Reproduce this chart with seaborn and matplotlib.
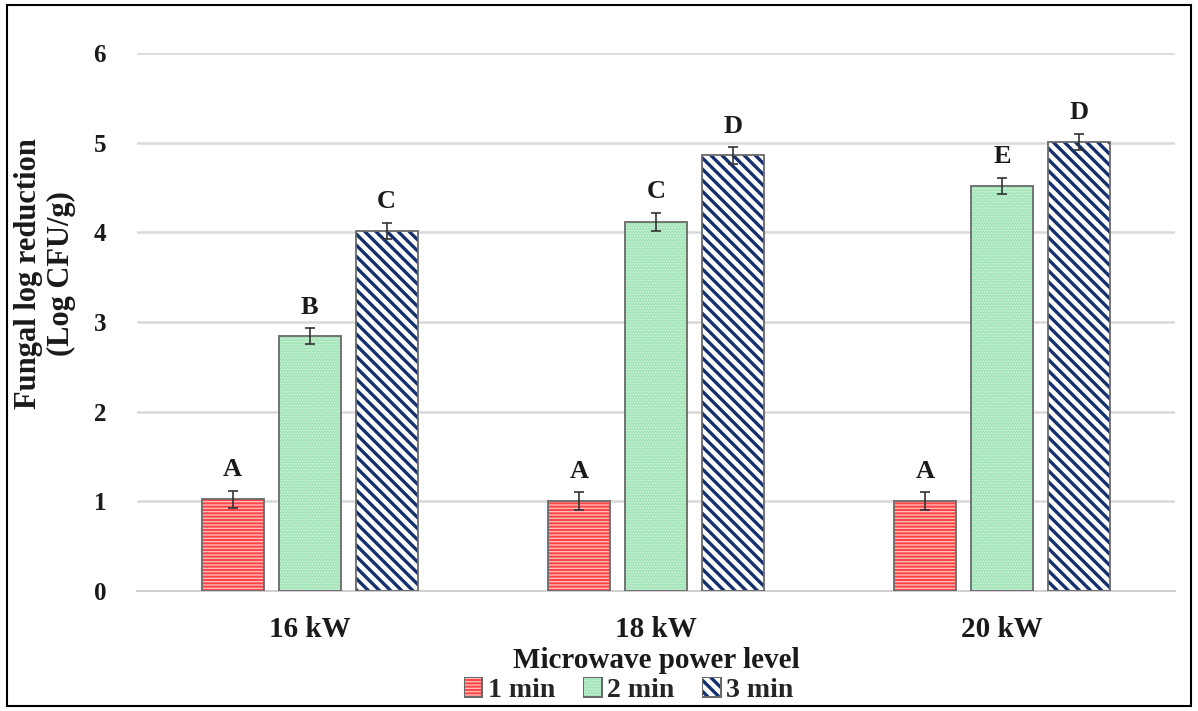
import numpy as np
import pandas as pd
import seaborn as sns
import matplotlib.pyplot as plt
import matplotlib.patheffects as pe
from matplotlib.patches import Rectangle

# values
powers = ["16 kW", "18 kW", "20 kW"]
times = ["1 min", "2 min", "3 min"]
reduction_1min = [1.02, 1.00, 1.00]
reduction_2min = [2.84, 4.12, 4.52]
reduction_3min = [4.02, 4.86, 5.01]
err_1min = [0.10, 0.10, 0.10]
err_2min = [0.09, 0.10, 0.09]
err_3min = [0.09, 0.09, 0.09]
letters_1min = ["A", "A", "A"]
letters_2min = ["B", "C", "E"]
letters_3min = ["C", "D", "D"]

vals = [reduction_1min, reduction_2min, reduction_3min]
errs = [err_1min, err_2min, err_3min]
letters = [letters_1min, letters_2min, letters_3min]

rows = []
for t, v in zip(times, vals):
    for p, y in zip(powers, v):
        rows.append({"power": p, "time": t, "value": y})
df = pd.DataFrame(rows)

sns.set_style("white")
plt.rcParams["font.family"] = ["Liberation Serif", "DejaVu Serif"]
plt.rcParams["font.weight"] = "bold"

fig = plt.figure(figsize=(11.98, 7.11), dpi=100)
ax = fig.add_axes([0.114, 0.169, 0.867, 0.756])

face = ["#ff4545", "#a4e6ba", "white"]
hatch_col = ["#ffc4c4", "#dcf6e4", "#14306e"]
hatches = ["-----", "......", "\\\\\\"]
hatch_lw = [0.9, 0.6, 2.4]


def style_patch(p, i):
    p.set_facecolor(face[i])
    p.set_hatch(hatches[i])
    p.set_edgecolor(hatch_col[i])
    p.set_linewidth(0)
    if hasattr(p, "set_hatch_linewidth"):
        p.set_hatch_linewidth(hatch_lw[i])
    else:
        p._hatch_linewidth = hatch_lw[i]


sns.barplot(data=df, x="power", y="value", hue="time", order=powers,
            hue_order=times, errorbar=None, width=0.667, gap=0.195,
            palette=face, ax=ax, legend=False)

bar_groups = list(ax.containers)
for i, cont in enumerate(bar_groups):
    for j, bar in enumerate(cont):
        style_patch(bar, i)
        x = bar.get_x() + bar.get_width() / 2
        h = bar.get_height()
        ax.add_patch(Rectangle((bar.get_x(), 0), bar.get_width(), h,
                               fill=False, edgecolor="#6a6a6a", lw=1.3, zorder=3))
        ax.errorbar(x, h, yerr=errs[i][j], fmt="none", ecolor="#333333",
                    elinewidth=1.2, capsize=3.5, capthick=1.2, zorder=4)
        ax.annotate(letters[i][j], (x, h + errs[i][j]), xytext=(0, 7),
                    textcoords="offset points", ha="center", va="bottom",
                    fontsize=19, fontweight="bold", color="#1a1a1a")

ax.set_xlim(-0.5, 2.5)
ax.set_ylim(0, 6)
ax.set_yticks(range(7))
ax.yaxis.grid(True, color="#d9d9d9", lw=1.8)
ax.set_axisbelow(True)
for s in ["top", "right", "left"]:
    ax.spines[s].set_visible(False)
ax.spines["bottom"].set_color("#d0d0d0")
ax.spines["bottom"].set_linewidth(1.5)
ax.tick_params(axis="x", length=0, labelsize=21, pad=18)
ax.tick_params(axis="y", length=0, labelsize=18, pad=22)
for lbl in ax.get_xticklabels() + ax.get_yticklabels():
    lbl.set_fontweight("bold")
    lbl.set_color("#1a1a1a")

ax.set_xlabel("Microwave power level", fontsize=21, fontweight="bold",
              labelpad=3, color="#1a1a1a")
ax.set_ylabel("Fungal log reduction\n(Log CFU/g)", fontsize=22,
              fontweight="bold", color="#1a1a1a", linespacing=1.2)
ax.yaxis.set_label_coords(-0.058, 0.59)

handles = [Rectangle((0, 0), 1, 1, facecolor=face[i]) for i in range(3)]
leg = fig.legend(handles, times, loc="center", ncol=3,
                 bbox_to_anchor=(0.525, 0.029), frameon=False,
                 prop={"size": 20, "weight": "bold"}, handlelength=0.6,
                 handleheight=0.6, handletextpad=0.22, columnspacing=1.05)
for i, hp in enumerate(leg.legend_handles):
    style_patch(hp, i)
    hp.set_path_effects([pe.Stroke(linewidth=2.2, foreground="#6a6a6a"), pe.Normal()])

fig.patches.append(Rectangle((0.006, 0.007), 0.988, 0.986, transform=fig.transFigure,
                             fill=False, edgecolor="black", lw=1.5))

fig.savefig("out.png", dpi=100)
